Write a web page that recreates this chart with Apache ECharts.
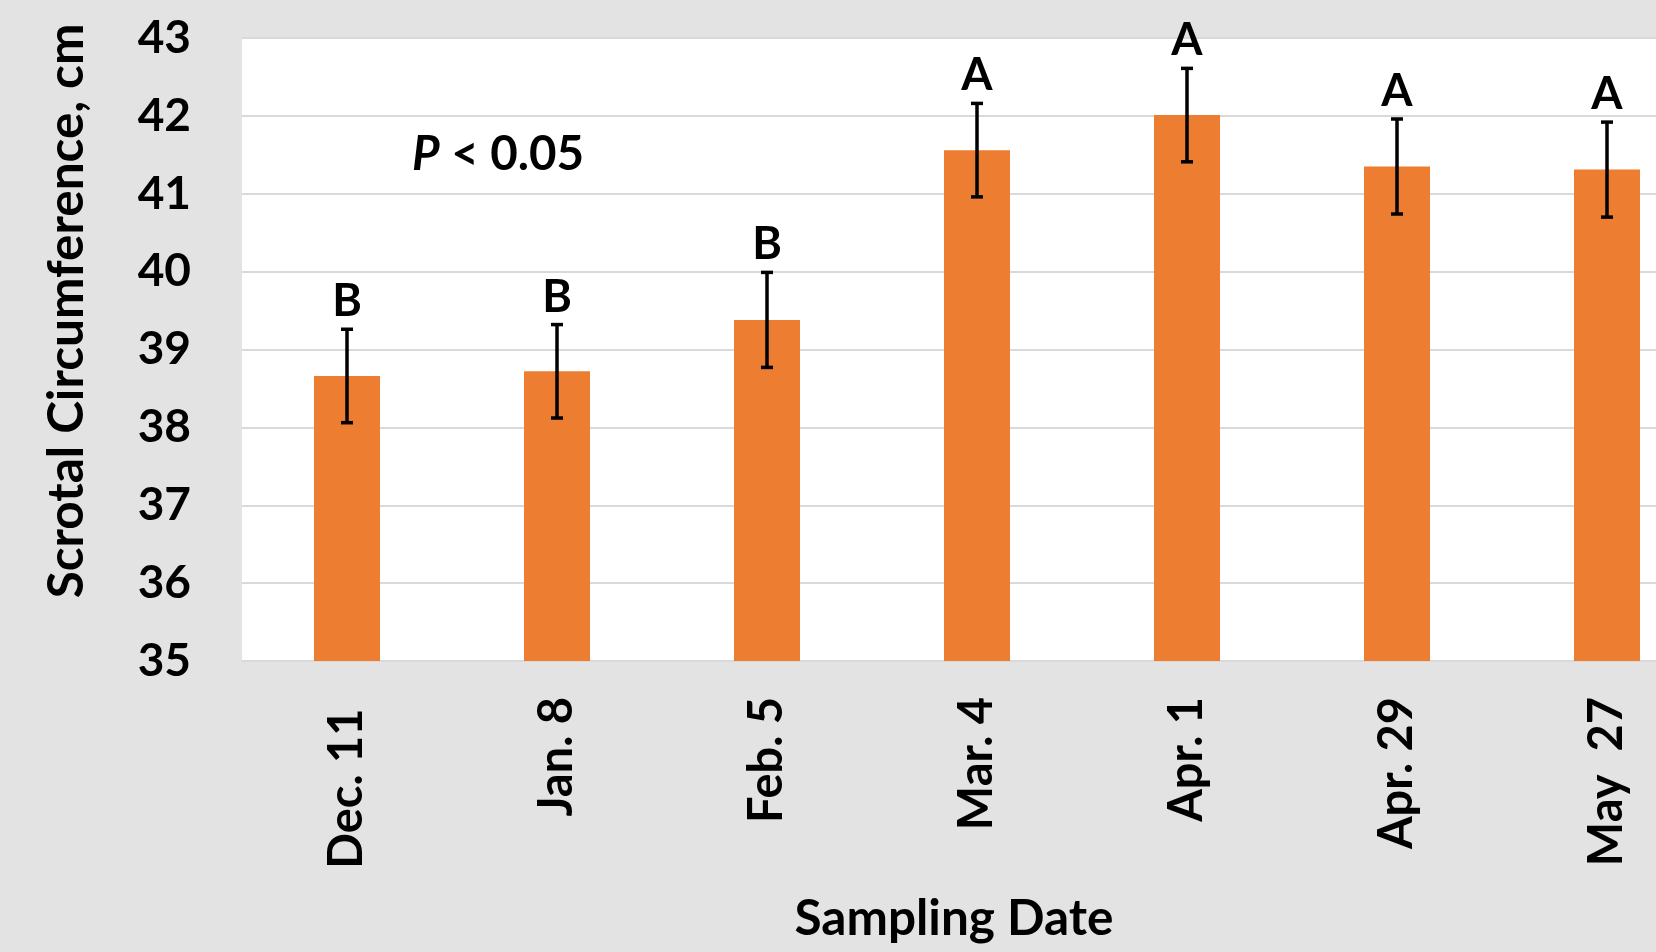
<!DOCTYPE html>
<html>
<head>
<meta charset="utf-8">
<title>Scrotal Circumference by Sampling Date</title>
<script src="https://cdn.jsdelivr.net/npm/echarts@6/dist/echarts.min.js"></script>
<style>
  html, body { margin: 0; padding: 0; background: #e3e3e3; overflow: hidden; width: 1656px; height: 952px; }
  /* the plot runs past the right edge of the page, so the canvas is wider than the view */
  #chart { width: 1712px; height: 952px; }
</style>
</head>
<body>
<div id="chart"></div>
<script>
// Sampling dates (spacing kept as in the original axis labels)
const categories = ['Dec. 11 ', 'Jan. 8', 'Feb. 5', 'Mar. 4', 'Apr. 1', 'Apr. 29', 'May  27'];
// Mean scrotal circumference, cm
const means = [38.66, 38.72, 39.38, 41.56, 42.01, 41.35, 41.31];
// Standard error of each mean, cm
const stdErr = [0.60, 0.60, 0.61, 0.60, 0.60, 0.61, 0.61];
// Significance grouping letters
const groups = ['B', 'B', 'B', 'A', 'A', 'A', 'A'];
// Y-axis range
const yMin = 35, yMax = 43, yStep = 1;

const FONT = 'Lato, "Open Sans", sans-serif';
const errData = means.map((m, i) => [i, m - stdErr[i], m + stdErr[i]]);

const chart = echarts.init(document.getElementById('chart'), null, { renderer: 'canvas' });

chart.setOption({
  backgroundColor: '#e3e3e3',
  animation: false,
  grid: {
    left: 242, right: 0, top: 38, bottom: 291,
    show: true, backgroundColor: '#ffffff', borderWidth: 0
  },
  xAxis: {
    type: 'category',
    data: categories,
    axisLine: { show: true, lineStyle: { color: '#d9d9d9', width: 2 } },
    axisTick: { show: false },
    axisLabel: {
      interval: 0, rotate: 90, margin: 36,
      fontFamily: FONT, fontWeight: 'bold', fontSize: 47, color: '#000'
    }
  },
  yAxis: {
    type: 'value',
    min: yMin, max: yMax, interval: yStep,
    axisLine: { show: false },
    axisTick: { show: false },
    splitLine: { lineStyle: { color: '#d9d9d9', width: 2 } },
    axisLabel: {
      margin: 51,
      fontFamily: FONT, fontWeight: 'bold', fontSize: 46, color: '#000'
    }
  },
  graphic: [
    {
      type: 'text', x: 67, y: 311, rotation: Math.PI / 2,
      style: {
        text: 'Scrotal Circumference, cm', align: 'center', verticalAlign: 'middle',
        fontFamily: FONT, fontWeight: 'bold', fontSize: 49.5, fill: '#000'
      }
    },
    {
      type: 'text', x: 954, y: 919,
      style: {
        text: 'Sampling Date', align: 'center', verticalAlign: 'middle',
        fontFamily: FONT, fontWeight: 'bold', fontSize: 49.5, fill: '#000'
      }
    },
    {
      type: 'text', x: 412, y: 155,
      style: {
        text: '{i|P} < 0.05', align: 'left', verticalAlign: 'middle',
        fontFamily: FONT, fontWeight: 'bold', fontSize: 47.5, fill: '#000',
        rich: { i: { fontFamily: FONT, fontWeight: 'bold', fontStyle: 'italic', fontSize: 47.5, fill: '#000' } }
      }
    }
  ],
  series: [
    {
      type: 'bar',
      data: means,
      barWidth: 66,
      itemStyle: { color: '#ed7d31' }
    },
    {
      type: 'custom',
      data: errData,
      encode: { x: 0, y: [1, 2] },
      z: 5,
      renderItem: function (params, api) {
        const x = api.value(0);
        const lo = api.coord([x, api.value(1)]);
        const hi = api.coord([x, api.value(2)]);
        const cap = 6;
        const ls = { stroke: '#000', lineWidth: 3.5 };
        return {
          type: 'group',
          children: [
            { type: 'line', shape: { x1: hi[0], y1: hi[1], x2: lo[0], y2: lo[1] }, style: ls },
            { type: 'line', shape: { x1: hi[0] - cap, y1: hi[1], x2: hi[0] + cap, y2: hi[1] }, style: ls },
            { type: 'line', shape: { x1: lo[0] - cap, y1: lo[1], x2: lo[0] + cap, y2: lo[1] }, style: ls },
            {
              type: 'text',
              style: {
                text: groups[params.dataIndex], x: hi[0], y: hi[1] - 5,
                align: 'center', verticalAlign: 'bottom',
                fontFamily: FONT, fontWeight: 'bold', fontSize: 45, fill: '#000'
              }
            }
          ]
        };
      }
    }
  ]
});
</script>
</body>
</html>
